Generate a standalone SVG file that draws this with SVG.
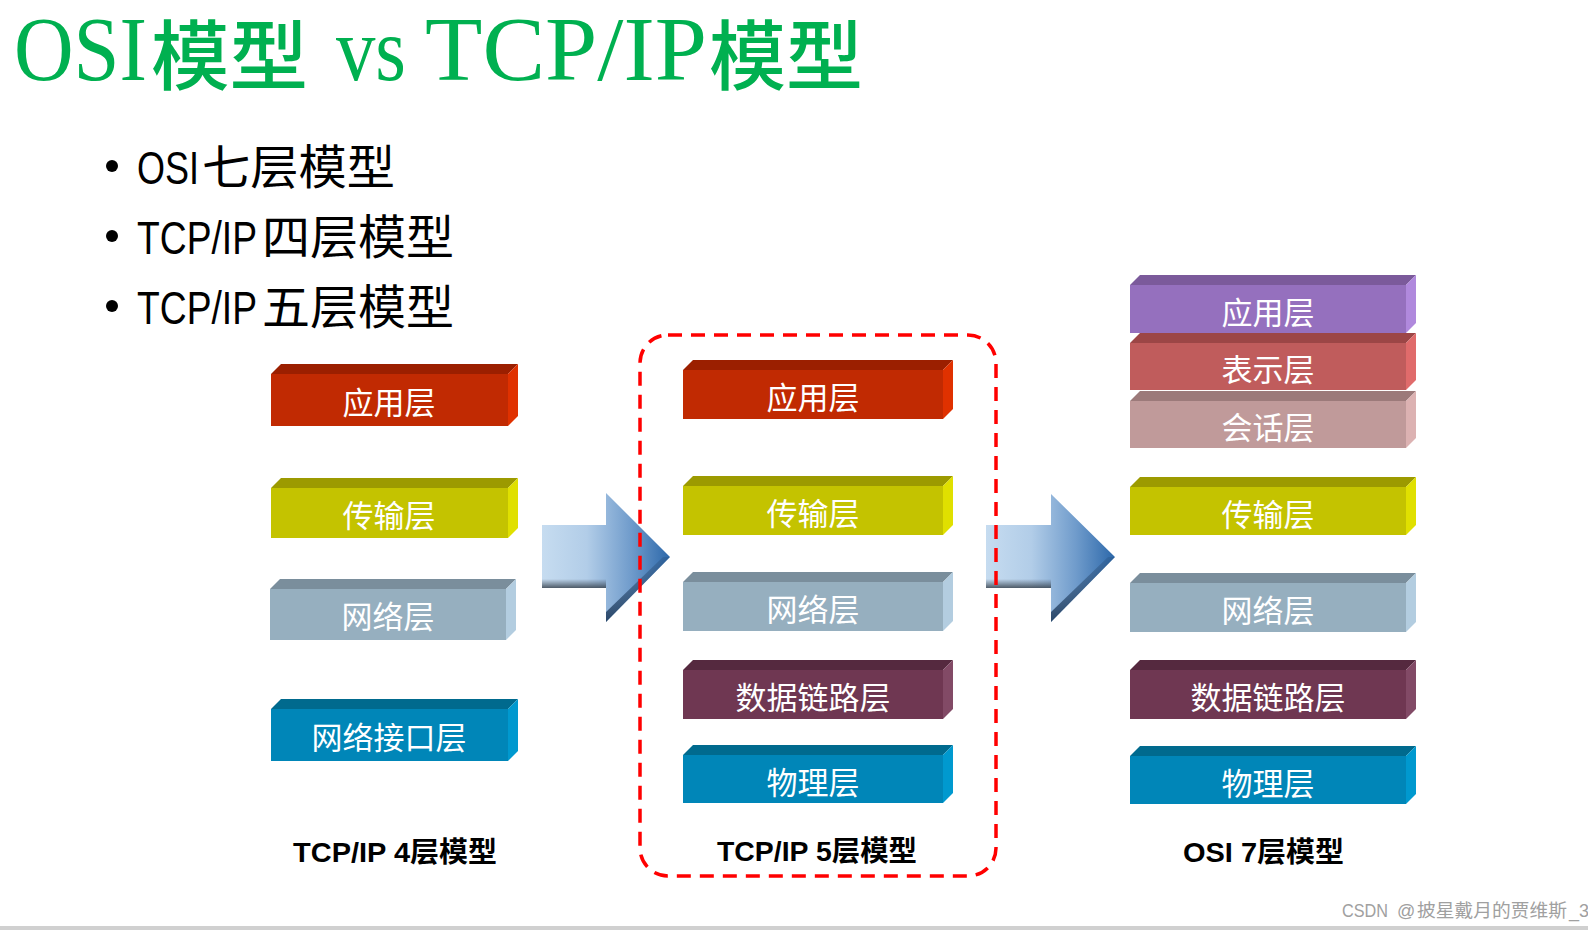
<svg xmlns="http://www.w3.org/2000/svg" width="1588" height="930" viewBox="0 0 1588 930">
<style>
.lbl{font-family:"Noto Sans CJK SC",sans-serif;font-size:31px;fill:#fff;text-anchor:middle;dominant-baseline:central}
.bl{font-family:"Liberation Sans","Noto Sans CJK SC",sans-serif;font-size:46px;fill:#000}
.bulc{font-family:"Noto Sans CJK SC",sans-serif;font-size:47px}
.cap{font-family:"Liberation Sans","Noto Sans CJK SC",sans-serif;font-size:28px;font-weight:bold;fill:#000}
.ttl{font-family:"Liberation Serif","Noto Sans CJK SC",serif;font-size:91px;fill:#00b050}
.tc{font-family:"Noto Sans CJK SC",serif;font-size:76px;font-weight:500}
.red .f{fill:#c12a02}.red .t{fill:#9b1f00}.red .s{fill:#e03100}
.yel .f{fill:#c4c300}.yel .t{fill:#9c9a00}.yel .s{fill:#e0e000}
.net .f{fill:#96afbf}.net .t{fill:#7a8e9c}.net .s{fill:#b3cde0}
.lnk .f{fill:#6f3752}.lnk .t{fill:#55293f}.lnk .s{fill:#824a66}
.phy .f{fill:#0086b8}.phy .t{fill:#006a8e}.phy .s{fill:#0099cf}
.pur .f{fill:#9570be}.pur .t{fill:#7b5a9b}.pur .s{fill:#b089dd}
.ros .f{fill:#c05c5c}.ros .t{fill:#9c4646}.ros .s{fill:#e06b6b}
.ses .f{fill:#c09a9a}.ses .t{fill:#9c7a7a}.ses .s{fill:#dcb2b2}
</style>
<defs>
<linearGradient id="ag" x1="0" y1="0" x2="1" y2="0">
<stop offset="0" stop-color="#c6dcf0"/>
<stop offset="0.35" stop-color="#b2cde8"/>
<stop offset="0.7" stop-color="#6f9bcb"/>
<stop offset="1" stop-color="#2c68aa"/>
</linearGradient>
<linearGradient id="sh" x1="0" y1="0" x2="0" y2="1">
<stop offset="0" stop-color="#3a4550" stop-opacity="0"/>
<stop offset="1" stop-color="#3a4550" stop-opacity="0.85"/>
</linearGradient>
<linearGradient id="shx" x1="0" y1="0" x2="1" y2="0">
<stop offset="0" stop-color="#fff" stop-opacity="1"/>
<stop offset="0.8" stop-color="#fff" stop-opacity="1"/>
<stop offset="1" stop-color="#fff" stop-opacity="0"/>
</linearGradient>
<mask id="shm"><rect x="0" y="0" width="1588" height="930" fill="url(#shx)"/></mask>
<linearGradient id="he" x1="0" y1="0" x2="0" y2="1">
<stop offset="0" stop-color="#1d3a5c" stop-opacity="0.2"/>
<stop offset="1" stop-color="#1d3a5c" stop-opacity="0.9"/>
</linearGradient>
</defs>
<rect width="1588" height="930" fill="#fff"/>

<g id="title">
<text class="ttl" y="80"><tspan x="14" textLength="133" lengthAdjust="spacingAndGlyphs">OSI</tspan><tspan class="tc" x="151" dy="4" textLength="157" lengthAdjust="spacingAndGlyphs">模型</tspan><tspan x="336" dy="-4" textLength="70" lengthAdjust="spacingAndGlyphs">vs</tspan><tspan x="425" textLength="282" lengthAdjust="spacingAndGlyphs">TCP/IP</tspan><tspan class="tc" x="709" dy="4" textLength="154" lengthAdjust="spacingAndGlyphs">模型</tspan></text>
</g>

<g id="bullets">
<circle cx="112" cy="166" r="6"/>
<text class="bl" y="184"><tspan x="137" textLength="62" lengthAdjust="spacingAndGlyphs">OSI</tspan><tspan class="bulc" x="202" textLength="193" lengthAdjust="spacingAndGlyphs">七层模型</tspan></text>
<circle cx="112" cy="236" r="6"/>
<text class="bl" y="254"><tspan x="137" textLength="120" lengthAdjust="spacingAndGlyphs">TCP/IP</tspan><tspan class="bulc" x="262" textLength="192" lengthAdjust="spacingAndGlyphs">四层模型</tspan></text>
<circle cx="112" cy="306" r="6"/>
<text class="bl" y="324"><tspan x="137" textLength="120" lengthAdjust="spacingAndGlyphs">TCP/IP</tspan><tspan class="bulc" x="262" textLength="192" lengthAdjust="spacingAndGlyphs">五层模型</tspan></text>
</g>

<g id="connectors">
<g id="arrow1">
<polygon points="542,525 606,525 606,493 670,557 606,622 606,588 542,588" fill="url(#ag)"/>
<rect x="542" y="579" width="64" height="9" fill="url(#sh)" mask="url(#shm)"/>
<polygon points="606,622 670,557 663,557 606,612" fill="url(#he)"/>
</g>
<g id="arrow2">
<polygon points="986,525 1051,525 1051,494 1115,557 1051,622 1051,588 986,588" fill="url(#ag)"/>
<rect x="986" y="579" width="65" height="9" fill="url(#sh)" mask="url(#shm)"/>
<polygon points="1051,622 1115,557 1108,557 1051,612" fill="url(#he)"/>
</g>
</g>

<!-- Left column: TCP/IP 4 -->
<g id="l-app" class="red">
<polygon class="t" points="271,374 281,364 518,364 508,374"/>
<polygon class="s" points="508,374 518,364 518,416 508,426"/>
<rect class="f" x="271" y="374" width="237" height="52"/>
<text class="lbl" x="389" y="400">应用层</text>
</g>
<g id="l-trans" class="yel">
<polygon class="t" points="271,488 281,478 518,478 508,488"/>
<polygon class="s" points="508,488 518,478 518,528 508,538"/>
<rect class="f" x="271" y="488" width="237" height="50"/>
<text class="lbl" x="389" y="513">传输层</text>
</g>
<g id="l-net" class="net">
<polygon class="t" points="270,589 280,579 516,579 506,589"/>
<polygon class="s" points="506,589 516,579 516,630 506,640"/>
<rect class="f" x="270" y="589" width="236" height="51"/>
<text class="lbl" x="388" y="614">网络层</text>
</g>
<g id="l-if" class="phy">
<polygon class="t" points="271,709 281,699 518,699 508,709"/>
<polygon class="s" points="508,709 518,699 518,751 508,761"/>
<rect class="f" x="271" y="709" width="237" height="52"/>
<text class="lbl" x="389" y="735">网络接口层</text>
</g>
<g id="l-caption"><text class="cap" x="293" y="862" textLength="204" lengthAdjust="spacingAndGlyphs">TCP/IP 4层模型</text></g>

<!-- Middle column: TCP/IP 5 -->
<g id="m-app" class="red">
<polygon class="t" points="683,370 693,360 953,360 943,370"/>
<polygon class="s" points="943,370 953,360 953,409 943,419"/>
<rect class="f" x="683" y="370" width="260" height="49"/>
<text class="lbl" x="813" y="395">应用层</text>
</g>
<g id="m-trans" class="yel">
<polygon class="t" points="683,486 693,476 953,476 943,486"/>
<polygon class="s" points="943,486 953,476 953,525 943,535"/>
<rect class="f" x="683" y="486" width="260" height="49"/>
<text class="lbl" x="813" y="511">传输层</text>
</g>
<g id="m-net" class="net">
<polygon class="t" points="683,582 693,572 953,572 943,582"/>
<polygon class="s" points="943,582 953,572 953,621 943,631"/>
<rect class="f" x="683" y="582" width="260" height="49"/>
<text class="lbl" x="813" y="607">网络层</text>
</g>
<g id="m-link" class="lnk">
<polygon class="t" points="683,670 693,660 953,660 943,670"/>
<polygon class="s" points="943,670 953,660 953,709 943,719"/>
<rect class="f" x="683" y="670" width="260" height="49"/>
<text class="lbl" x="813" y="695">数据链路层</text>
</g>
<g id="m-phy" class="phy">
<polygon class="t" points="683,755 693,745 953,745 943,755"/>
<polygon class="s" points="943,755 953,745 953,793 943,803"/>
<rect class="f" x="683" y="755" width="260" height="48"/>
<text class="lbl" x="813" y="780">物理层</text>
</g>
<g id="m-caption"><text class="cap" x="717" y="861" textLength="200" lengthAdjust="spacingAndGlyphs">TCP/IP 5层模型</text></g>

<!-- Right column: OSI 7 -->
<g id="r-app" class="pur">
<polygon class="t" points="1130,285 1140,275 1416,275 1406,285"/>
<polygon class="s" points="1406,285 1416,275 1416,323 1406,333"/>
<rect class="f" x="1130" y="285" width="276" height="48"/>
<text class="lbl" x="1268" y="310">应用层</text>
</g>
<g id="r-pres" class="ros">
<polygon class="t" points="1130,343 1140,333 1416,333 1406,343"/>
<polygon class="s" points="1406,343 1416,333 1416,380 1406,390"/>
<rect class="f" x="1130" y="343" width="276" height="47"/>
<text class="lbl" x="1268" y="367">表示层</text>
</g>
<g id="r-sess" class="ses">
<polygon class="t" points="1130,401 1140,391 1416,391 1406,401"/>
<polygon class="s" points="1406,401 1416,391 1416,438 1406,448"/>
<rect class="f" x="1130" y="401" width="276" height="47"/>
<text class="lbl" x="1268" y="425">会话层</text>
</g>
<g id="r-trans" class="yel">
<polygon class="t" points="1130,487 1140,477 1416,477 1406,487"/>
<polygon class="s" points="1406,487 1416,477 1416,525 1406,535"/>
<rect class="f" x="1130" y="487" width="276" height="48"/>
<text class="lbl" x="1268" y="512">传输层</text>
</g>
<g id="r-net" class="net">
<polygon class="t" points="1130,583 1140,573 1416,573 1406,583"/>
<polygon class="s" points="1406,583 1416,573 1416,622 1406,632"/>
<rect class="f" x="1130" y="583" width="276" height="49"/>
<text class="lbl" x="1268" y="608">网络层</text>
</g>
<g id="r-link" class="lnk">
<polygon class="t" points="1130,670 1140,660 1416,660 1406,670"/>
<polygon class="s" points="1406,670 1416,660 1416,709 1406,719"/>
<rect class="f" x="1130" y="670" width="276" height="49"/>
<text class="lbl" x="1268" y="695">数据链路层</text>
</g>
<g id="r-phy" class="phy">
<polygon class="t" points="1130,756 1140,746 1416,746 1406,756"/>
<polygon class="s" points="1406,756 1416,746 1416,794 1406,804"/>
<rect class="f" x="1130" y="756" width="276" height="48"/>
<text class="lbl" x="1268" y="781">物理层</text>
</g>
<g id="r-caption"><text class="cap" x="1183" y="862" textLength="161" lengthAdjust="spacingAndGlyphs">OSI 7层模型</text></g>

<g id="highlight">
<rect x="640" y="335" width="356" height="541" rx="28" fill="none" stroke="#ff0000" stroke-width="3.5" stroke-dasharray="14 9"/>
</g>

<g id="watermark">
<text font-family="Liberation Sans,Noto Sans CJK SC,sans-serif" fill="#a0a0a0" font-size="18" y="917"><tspan x="1342" textLength="46" lengthAdjust="spacingAndGlyphs">CSDN</tspan><tspan x="1397">@</tspan><tspan x="1417" font-family="Noto Sans CJK SC,sans-serif" font-size="18.5" textLength="150" lengthAdjust="spacingAndGlyphs">披星戴月的贾维斯</tspan><tspan x="1569">_3</tspan></text>
</g>
<rect x="0" y="926" width="1588" height="4" fill="#d0d0d0"/>
</svg>
